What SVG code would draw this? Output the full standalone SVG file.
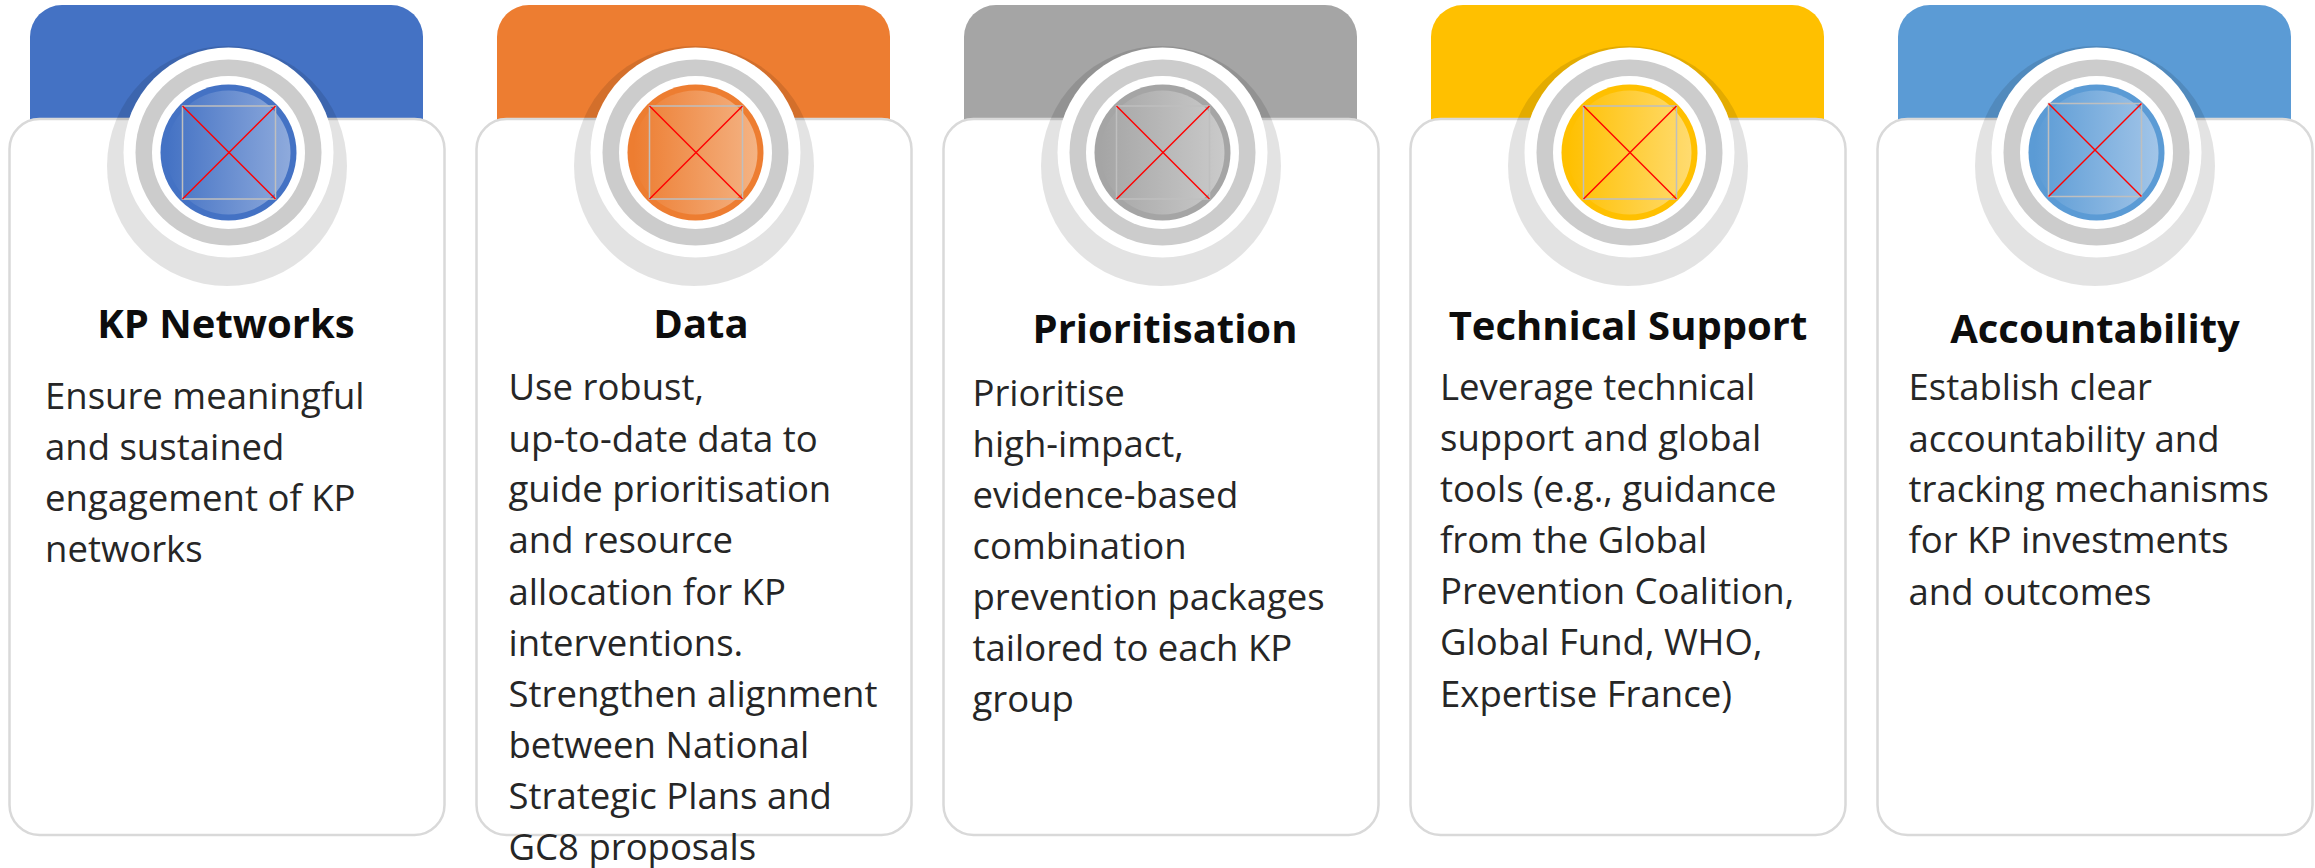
<svg xmlns="http://www.w3.org/2000/svg" width="2315" height="868" viewBox="0 0 2315 868">
<defs>
<linearGradient id="gBlue" x1="0" y1="0" x2="1" y2="0"><stop offset="0" stop-color="#4472c4"/><stop offset="1" stop-color="#8eaadc"/></linearGradient>
<linearGradient id="gOrange" x1="0" y1="0" x2="1" y2="0"><stop offset="0" stop-color="#ed7d31"/><stop offset="1" stop-color="#f4b384"/></linearGradient>
<linearGradient id="gGray" x1="0" y1="0" x2="1" y2="0"><stop offset="0" stop-color="#a5a5a5"/><stop offset="1" stop-color="#cacaca"/></linearGradient>
<linearGradient id="gYellow" x1="0" y1="0" x2="1" y2="0"><stop offset="0" stop-color="#ffc000"/><stop offset="1" stop-color="#ffdb70"/></linearGradient>
<linearGradient id="gLBlue" x1="0" y1="0" x2="1" y2="0"><stop offset="0" stop-color="#5b9bd5"/><stop offset="1" stop-color="#a2c5e8"/></linearGradient>
<g id="rings">
<circle cx="227" cy="166" r="120" fill="#000" fill-opacity="0.11"/>
<circle cx="228.5" cy="152.5" r="105" fill="#fff"/>
<circle cx="228.5" cy="152.5" r="93" fill="#cccccc"/>
<circle cx="228.5" cy="152.5" r="76.5" fill="#fff"/>
</g>
</defs>
<style>
.card{fill:#fff;stroke:#d9d9d9;stroke-width:2.5}
.ph{fill:none;stroke:#bfbfbf;stroke-width:1.5}
.x{stroke:#ff0000;stroke-width:1.5}
.title{font-family:"Open Sans","Liberation Sans",sans-serif;font-weight:bold;font-size:40px;fill:#0d0d0d;text-anchor:middle}
.body{font-family:"Open Sans","Liberation Sans",sans-serif;font-size:36.5px;fill:#262626}
</style>

<g id="card-kp-networks">
<rect x="30" y="5" width="393" height="160" rx="32" fill="#4472c4"/>
<rect class="card" x="9.5" y="119" width="435" height="716" rx="30"/>
<use href="#rings"/>
<circle cx="228.5" cy="152.5" r="68" fill="#4472c4"/>
<circle cx="228.5" cy="152.5" r="62" fill="url(#gBlue)"/>
<rect class="ph" x="182.5" y="106" width="93" height="93"/>
<line class="x" x1="182.5" y1="106" x2="275.5" y2="199"/>
<line class="x" x1="275.5" y1="106" x2="182.5" y2="199"/>
<text class="title" x="226" y="338">KP Networks</text>
<text class="body" x="45" y="409">Ensure meaningful<tspan x="45" y="460">and sustained</tspan><tspan x="45" y="511">engagement of KP</tspan><tspan x="45" y="562">networks</tspan></text>
</g>

<g id="card-data">
<rect x="497" y="5" width="393" height="160" rx="32" fill="#ed7d31"/>
<rect class="card" x="476.5" y="119" width="435" height="716" rx="30"/>
<use href="#rings" transform="translate(467 0)"/>
<circle cx="695.5" cy="152.5" r="68" fill="#ed7d31"/>
<circle cx="695.5" cy="152.5" r="62" fill="url(#gOrange)"/>
<rect class="ph" x="649.5" y="106" width="93" height="93"/>
<line class="x" x1="649.5" y1="106" x2="742.5" y2="199"/>
<line class="x" x1="742.5" y1="106" x2="649.5" y2="199"/>
<text class="title" x="701" y="338">Data</text>
<text class="body" x="508.5" y="400">Use robust,<tspan x="508.5" y="451.5">up-to-date data to</tspan><tspan x="508.5" y="502">guide prioritisation</tspan><tspan x="508.5" y="553">and resource</tspan><tspan x="508.5" y="604.5">allocation for KP</tspan><tspan x="508.5" y="656">interventions.</tspan><tspan x="508.5" y="706.5">Strengthen alignment</tspan><tspan x="508.5" y="758">between National</tspan><tspan x="508.5" y="808.5">Strategic Plans and</tspan><tspan x="508.5" y="859.5">GC8 proposals</tspan></text>
</g>

<g id="card-prioritisation">
<rect x="964" y="5" width="393" height="160" rx="32" fill="#a5a5a5"/>
<rect class="card" x="943.5" y="119" width="435" height="716" rx="30"/>
<use href="#rings" transform="translate(934 0)"/>
<circle cx="1162.5" cy="152.5" r="68" fill="#a5a5a5"/>
<circle cx="1162.5" cy="152.5" r="62" fill="url(#gGray)"/>
<rect class="ph" x="1116.5" y="106" width="93" height="93"/>
<line class="x" x1="1116.5" y1="106" x2="1209.5" y2="199"/>
<line class="x" x1="1209.5" y1="106" x2="1116.5" y2="199"/>
<text class="title" x="1165" y="343">Prioritisation</text>
<text class="body" x="972.5" y="406">Prioritise<tspan x="972.5" y="457">high-impact,</tspan><tspan x="972.5" y="508">evidence-based</tspan><tspan x="972.5" y="559">combination</tspan><tspan x="972.5" y="610">prevention packages</tspan><tspan x="972.5" y="661">tailored to each KP</tspan><tspan x="972.5" y="712">group</tspan></text>
</g>

<g id="card-technical-support">
<rect x="1431" y="5" width="393" height="160" rx="32" fill="#ffc000"/>
<rect class="card" x="1410.5" y="119" width="435" height="716" rx="30"/>
<use href="#rings" transform="translate(1401 0)"/>
<circle cx="1629.5" cy="152.5" r="68" fill="#ffc000"/>
<circle cx="1629.5" cy="152.5" r="62" fill="url(#gYellow)"/>
<rect class="ph" x="1583.5" y="106" width="93" height="93"/>
<line class="x" x1="1583.5" y1="106" x2="1676.5" y2="199"/>
<line class="x" x1="1676.5" y1="106" x2="1583.5" y2="199"/>
<text class="title" x="1628" y="340">Technical Support</text>
<text class="body" x="1440" y="400">Leverage technical<tspan x="1440" y="451">support and global</tspan><tspan x="1440" y="502">tools (e.g., guidance</tspan><tspan x="1440" y="553">from the Global</tspan><tspan x="1440" y="604">Prevention Coalition,</tspan><tspan x="1440" y="655">Global Fund, WHO,</tspan><tspan x="1440" y="706.5">Expertise France)</tspan></text>
</g>

<g id="card-accountability">
<rect x="1898" y="5" width="393" height="160" rx="32" fill="#5b9bd5"/>
<rect class="card" x="1877.5" y="119" width="435" height="716" rx="30"/>
<use href="#rings" transform="translate(1868 0)"/>
<circle cx="2096.5" cy="152.5" r="68" fill="#5b9bd5"/>
<circle cx="2096.5" cy="152.5" r="62" fill="url(#gLBlue)"/>
<rect class="ph" x="2048.5" y="103.5" width="93" height="93"/>
<line class="x" x1="2048.5" y1="103.5" x2="2141.5" y2="196.5"/>
<line class="x" x1="2141.5" y1="103.5" x2="2048.5" y2="196.5"/>
<text class="title" x="2095" y="343">Accountability</text>
<text class="body" x="1908.5" y="400">Establish clear<tspan x="1908.5" y="451.5">accountability and</tspan><tspan x="1908.5" y="502">tracking mechanisms</tspan><tspan x="1908.5" y="553">for KP investments</tspan><tspan x="1908.5" y="605">and outcomes</tspan></text>
</g>

<g id="connectors"/>
</svg>
